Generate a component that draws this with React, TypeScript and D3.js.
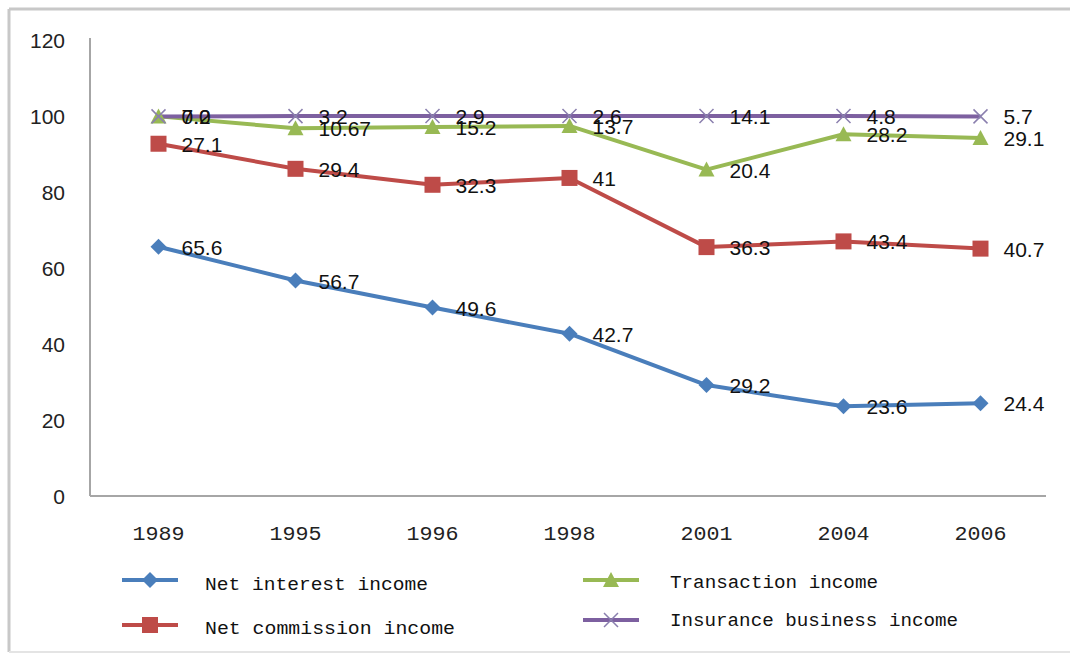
import React from "react";
import * as d3 from "d3";

const years = ["1989", "1995", "1996", "1998", "2001", "2004", "2006"];
const netInterest = [65.6, 56.7, 49.6, 42.7, 29.2, 23.6, 24.4];
const netCommission = [27.1, 29.4, 32.3, 41, 36.3, 43.4, 40.7];
const transaction = [7.2, 10.67, 15.2, 13.7, 20.4, 28.2, 29.1];
const insurance = [0.0, 3.2, 2.9, 2.6, 14.1, 4.8, 5.7];
const insuranceLabels = ["0.0", "3.2", "2.9", "2.6", "14.1", "4.8", "5.7"];
const yTicks = [0, 20, 40, 60, 80, 100, 120];
const seriesNames = ["Net interest income", "Net commission income", "Transaction income", "Insurance business income"];

const colors = ["#4a7ebb", "#be4b48", "#98b954", "#7d60a0"];

export default function App() {
  const W = 1070, H = 659;
  const x = d3.scaleBand().domain(years).range([90, 1049]);
  const cx = (d: string) => (x(d) as number) + x.bandwidth() / 2;
  const y = d3.scaleLinear().domain([0, 120]).range([496, 40]);

  const raw = [netInterest, netCommission, transaction, insurance];
  const cum: number[][] = [];
  raw.forEach((s, i) => {
    cum.push(s.map((v, j) => (i === 0 ? v : cum[i - 1][j] + v)));
  });
  const labels = [
    netInterest.map(String),
    netCommission.map(String),
    transaction.map(String),
    insuranceLabels,
  ];
  const line = d3.line<number>().x((_, j) => cx(years[j])).y((v) => y(v));

  const marker = (i: number, px: number, py: number, key: string) => {
    const c = colors[i];
    if (i === 0) {
      const s = 8;
      return <path key={key} d={`M${px},${py - s}L${px + s},${py}L${px},${py + s}L${px - s},${py}Z`} fill={c} />;
    }
    if (i === 1) {
      return <rect key={key} x={px - 8} y={py - 8} width={16} height={16} fill={c} />;
    }
    if (i === 2) {
      return <path key={key} d={`M${px},${py - 8}L${px + 8},${py + 7}L${px - 8},${py + 7}Z`} fill={c} />;
    }
    return (
      <path key={key} d={`M${px - 7},${py - 7}L${px + 7},${py + 7}M${px - 7},${py + 7}L${px + 7},${py - 7}`} stroke="#8a7fae" strokeWidth={1.5} fill="none" />
    );
  };

  const legend = [
    { i: 0, lx: 122, ly: 580, tx: 205, ty: 590, w: 223 },
    { i: 1, lx: 122, ly: 625, tx: 205, ty: 634, w: 250 },
    { i: 2, lx: 583, ly: 580, tx: 670, ty: 588, w: 208 },
    { i: 3, lx: 583, ly: 620, tx: 670, ty: 626, w: 288 },
  ];

  return (
    <svg width={W} height={H} style={{ position: "absolute", left: 0, top: 0, background: "#fff" }}>
      <rect x={0} y={0} width={W} height={H} fill="#fff" />
      {/* frame */}
      <line x1={9} y1={9} x2={W} y2={9} stroke="#c8c8c8" strokeWidth={3} />
      <line x1={9} y1={9} x2={9} y2={652} stroke="#c8c8c8" strokeWidth={3} />
      <line x1={9} y1={652} x2={W} y2={652} stroke="#e4e4e4" strokeWidth={2} />
      {/* axes */}
      <line x1={90} y1={38} x2={90} y2={496} stroke="#a6a6a6" strokeWidth={2} />
      <line x1={90} y1={496} x2={1046} y2={496} stroke="#a6a6a6" strokeWidth={2} />
      {yTicks.map((t) => (
        <text key={t} x={65} y={y(t) + 8} textAnchor="end" fontFamily="Liberation Sans, Arial, sans-serif" fontSize={21} fill="#222">
          {t}
        </text>
      ))}
      {years.map((yr) => (
        <text key={yr} x={cx(yr)} y={540} textAnchor="middle" fontFamily="Liberation Mono, monospace" fontSize={21} fill="#222" textLength={52} lengthAdjust="spacingAndGlyphs">
          {yr}
        </text>
      ))}
      {/* lines */}
      {cum.map((s, i) => (
        <path key={"l" + i} d={line(s) as string} fill="none" stroke={colors[i]} strokeWidth={4} strokeLinejoin="round" />
      ))}
      {cum.map((s, i) => s.map((v, j) => marker(i, cx(years[j]), y(v), `m${i}-${j}`)))}
      {/* data labels */}
      {cum.map((s, i) =>
        s.map((v, j) => (
          <text key={`t${i}-${j}`} x={cx(years[j]) + 23} y={y(v) + 8} fontFamily="Liberation Sans, Arial, sans-serif" fontSize={21} fill="#111">
            {labels[i][j]}
          </text>
        ))
      )}
      {/* legend */}
      {legend.map((l) => (
        <g key={"lg" + l.i}>
          <line x1={l.lx} y1={l.ly} x2={l.lx + 56} y2={l.ly} stroke={colors[l.i]} strokeWidth={4} />
          {marker(l.i, l.lx + 28, l.ly, "lm" + l.i)}
          <text x={l.tx} y={l.ty} fontFamily="Liberation Mono, monospace" fontSize={19} fill="#111" textLength={l.w} lengthAdjust="spacingAndGlyphs">
            {seriesNames[l.i]}
          </text>
        </g>
      ))}
    </svg>
  );
}
